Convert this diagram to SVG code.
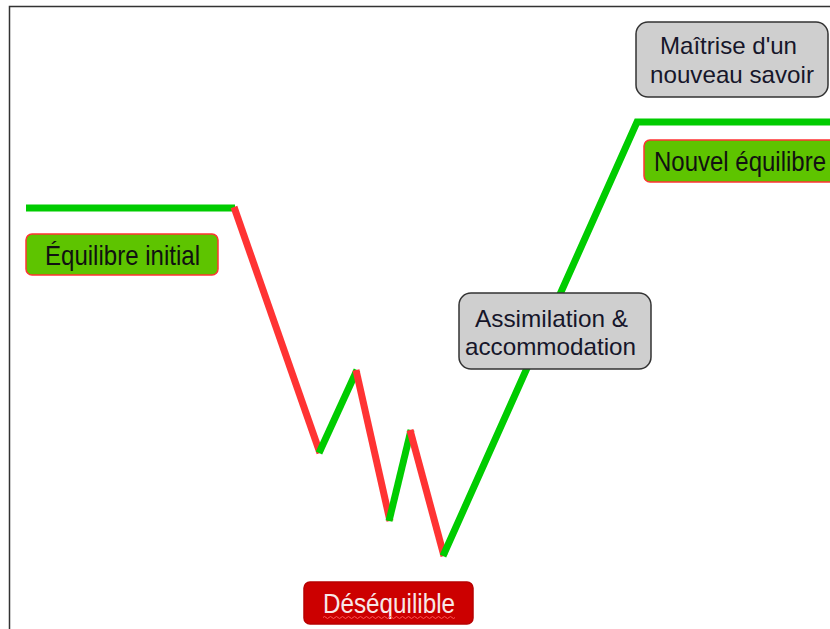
<svg xmlns="http://www.w3.org/2000/svg" width="830" height="629" viewBox="0 0 830 629">
<style>
.lbl{font-family:"Liberation Sans",Arial,sans-serif;font-size:24px}
.g{stroke:#00cc00;stroke-width:7;fill:none;stroke-linecap:butt;stroke-linejoin:miter}
.r{stroke:#ff3333;stroke-width:7;fill:none;stroke-linecap:butt}
.okbox{fill:#5ec400;stroke:#ff3333;stroke-width:1.5}
.graybox{fill:#cfcfcf;stroke:#333333;stroke-width:1.5}
.dark{fill:#16162a}
</style>
<rect width="830" height="629" fill="#ffffff"/>
<path d="M9.5,629 V6.5 H830" fill="none" stroke="#333333" stroke-width="1.5"/>
<g id="connectors">
<path class="g" d="M26,208 H235"/>
<path class="r" d="M234,207 L320,453"/>
<path class="g" d="M319,453 L357,370"/>
<path class="r" d="M356,370 L390,521"/>
<path class="g" d="M389,521 L411,430"/>
<path class="r" d="M410,430 L444,556"/>
<path class="g" d="M443,556 L637,122 H830"/>
</g>
<g id="equilibre-initial">
<rect class="okbox" x="26" y="234" width="192" height="41" rx="6"/>
<text class="lbl" transform="translate(45,265) scale(1,1.17)" fill="#111111" textLength="155" lengthAdjust="spacingAndGlyphs">Équilibre initial</text>
</g>
<g id="desequilibre">
<rect x="304" y="582" width="169" height="42" rx="6" fill="#cc0000" stroke="#b80000" stroke-width="1.5"/>
<text class="lbl" transform="translate(323,613) scale(1,1.17)" fill="#f7e8e8" textLength="132" lengthAdjust="spacingAndGlyphs">Déséquilible</text>
<path d="M323,617.5 q1.5,-2 3,0 t3,0 t3,0 t3,0 t3,0 t3,0 t3,0 t3,0 t3,0 t3,0 t3,0 t3,0 t3,0 t3,0 t3,0 t3,0 t3,0 t3,0 t3,0 t3,0 t3,0 t3,0 t3,0 t3,0 t3,0 t3,0 t3,0 t3,0 t3,0 t3,0 t3,0 t3,0 t3,0 t3,0 t3,0 t3,0 t3,0 t3,0 t3,0 t3,0 t3,0 t3,0 t3,0 t3,0" fill="none" stroke="#ff5555" stroke-width="1"/>
</g>
<g id="assimilation">
<rect class="graybox" x="459" y="293" width="192" height="76" rx="12"/>
<text class="lbl dark" x="475" y="327" textLength="153" lengthAdjust="spacingAndGlyphs">Assimilation &amp;</text>
<text class="lbl dark" x="465" y="355" textLength="171" lengthAdjust="spacingAndGlyphs">accommodation</text>
</g>
<g id="maitrise">
<rect class="graybox" x="636" y="22" width="192" height="75" rx="12"/>
<text class="lbl dark" x="660" y="54" textLength="137" lengthAdjust="spacingAndGlyphs">Maîtrise d'un</text>
<text class="lbl dark" x="650" y="83" textLength="164" lengthAdjust="spacingAndGlyphs">nouveau savoir</text>
</g>
<g id="nouvel-equilibre">
<rect class="okbox" x="644" y="140" width="192" height="42" rx="6"/>
<text class="lbl" transform="translate(654,171) scale(1,1.17)" fill="#111111" textLength="172" lengthAdjust="spacingAndGlyphs">Nouvel équilibre</text>
</g>
</svg>
